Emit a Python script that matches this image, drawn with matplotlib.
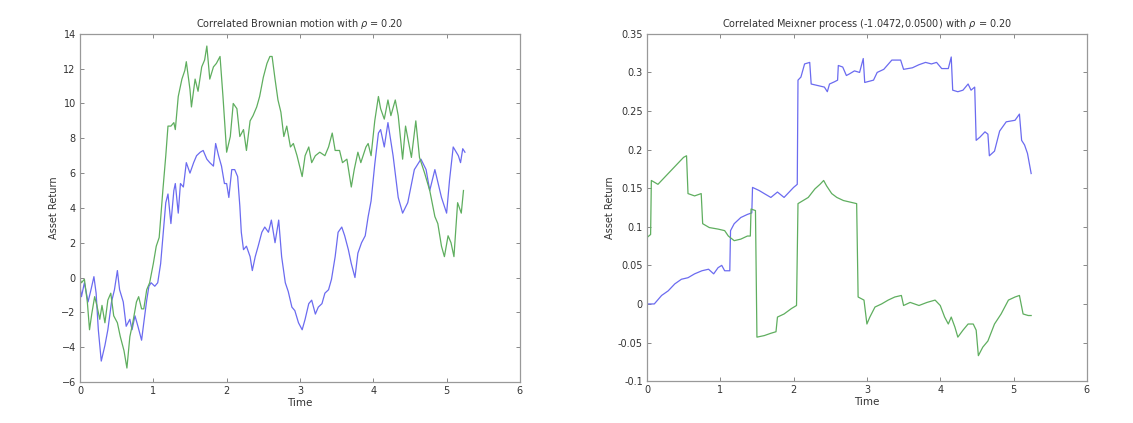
import numpy as np
import matplotlib
matplotlib.use('Agg')
import matplotlib.pyplot as plt

# ---- correlated brownian motion (left) ----
bm_t_blue = [0.00, 0.02, 0.06, 0.11, 0.15, 0.19, 0.22, 0.25, 0.29, 0.34, 0.38, 0.43, 0.47, 0.51,
             0.54, 0.59, 0.63, 0.68, 0.71, 0.75, 0.79, 0.84, 0.87, 0.91, 0.94, 0.97, 1.02, 1.06,
             1.10, 1.13, 1.17, 1.20, 1.24, 1.28, 1.30, 1.34, 1.37, 1.41, 1.45, 1.50, 1.55, 1.59,
             1.64, 1.68, 1.73, 1.77, 1.82, 1.85, 1.89, 1.93, 1.97, 2.00, 2.03, 2.07, 2.11, 2.15,
             2.18, 2.20, 2.23, 2.27, 2.32, 2.35, 2.39, 2.43, 2.48, 2.52, 2.57, 2.61, 2.66, 2.71,
             2.75, 2.80, 2.84, 2.89, 2.93, 2.98, 3.03, 3.07, 3.12, 3.16, 3.21, 3.25, 3.30, 3.34,
             3.39, 3.43, 3.48, 3.52, 3.57, 3.61, 3.66, 3.70, 3.75, 3.79, 3.84, 3.89, 3.93, 3.97,
             4.02, 4.07, 4.10, 4.15, 4.20, 4.27, 4.34, 4.40, 4.47, 4.56, 4.65, 4.72, 4.77, 4.84,
             4.93, 5.00, 5.04, 5.09, 5.16, 5.19, 5.22, 5.25]
bm_blue = [-0.5, -1.1, -0.3, -1.4, -0.7, 0.05, -0.9, -3.0, -4.8, -3.9, -3.0, -1.4, -0.7, 0.4,
           -0.7, -1.4, -2.8, -2.4, -3.0, -2.2, -2.8, -3.6, -2.6, -1.3, -0.5, -0.3, -0.5, -0.3,
           0.8, 2.3, 4.3, 4.8, 3.1, 5.0, 5.4, 3.7, 5.4, 5.2, 6.6, 6.0, 6.6, 7.0,
           7.2, 7.3, 6.8, 6.6, 6.4, 7.7, 7.0, 6.4, 5.4, 5.4, 4.6, 6.2, 6.2, 5.8,
           4.1, 2.6, 1.6, 1.8, 1.2, 0.4, 1.2, 1.8, 2.6, 2.9, 2.6, 3.3, 2.0, 3.3,
           1.2, -0.3, -0.8, -1.7, -1.9, -2.6, -3.0, -2.4, -1.5, -1.3, -2.1, -1.7, -1.5, -0.9,
           -0.7, -0.1, 1.2, 2.6, 2.9, 2.4, 1.6, 0.8, 0.0, 1.4, 2.0, 2.4, 3.5, 4.4,
           6.5, 8.3, 8.5, 7.5, 8.9, 7.0, 4.6, 3.7, 4.3, 6.2, 6.8, 6.2, 5.0, 6.2,
           4.6, 3.7, 5.6, 7.5, 7.0, 6.6, 7.4, 7.2]

bm_t_green = [0.00, 0.02, 0.06, 0.10, 0.13, 0.16, 0.20, 0.23, 0.27, 0.30, 0.34, 0.38, 0.42, 0.46,
              0.51, 0.55, 0.60, 0.64, 0.68, 0.72, 0.77, 0.80, 0.84, 0.87, 0.91, 0.95, 1.00, 1.04,
              1.08, 1.13, 1.17, 1.20, 1.24, 1.28, 1.30, 1.34, 1.39, 1.43, 1.45, 1.50, 1.52, 1.57,
              1.61, 1.66, 1.70, 1.73, 1.77, 1.82, 1.86, 1.91, 1.95, 2.00, 2.05, 2.09, 2.14, 2.18,
              2.23, 2.27, 2.32, 2.36, 2.41, 2.45, 2.50, 2.55, 2.59, 2.62, 2.66, 2.70, 2.74, 2.78,
              2.82, 2.87, 2.91, 2.96, 3.03, 3.07, 3.12, 3.16, 3.21, 3.27, 3.34, 3.39, 3.44, 3.48,
              3.54, 3.58, 3.64, 3.70, 3.74, 3.79, 3.83, 3.90, 3.93, 3.97, 4.02, 4.07, 4.10, 4.15,
              4.20, 4.24, 4.30, 4.34, 4.40, 4.44, 4.52, 4.58, 4.63, 4.70, 4.77, 4.84, 4.88, 4.93,
              4.97, 5.02, 5.06, 5.10, 5.15, 5.20, 5.23]
bm_green = [-0.1, -0.3, -0.1, -1.4, -3.0, -2.1, -1.1, -1.6, -2.4, -1.6, -2.6, -1.3, -0.9, -2.2,
            -2.6, -3.4, -4.2, -5.2, -3.4, -2.6, -1.4, -1.1, -1.8, -1.8, -0.7, -0.3, 0.8, 1.8,
            2.3, 5.0, 7.0, 8.7, 8.7, 8.9, 8.5, 10.4, 11.4, 11.9, 12.4, 10.8, 9.8, 11.4,
            10.7, 12.1, 12.5, 13.3, 11.4, 12.1, 12.3, 12.7, 10.4, 7.2, 8.1, 10.0, 9.7, 8.1,
            8.5, 7.3, 9.0, 9.3, 9.8, 10.4, 11.5, 12.3, 12.7, 12.7, 11.4, 10.2, 9.5, 8.1,
            8.7, 7.5, 7.7, 7.0, 5.8, 7.0, 7.5, 6.6, 7.0, 7.2, 7.0, 7.5, 8.3, 7.3,
            7.3, 6.6, 6.8, 5.2, 6.2, 7.2, 6.6, 7.5, 7.7, 7.0, 9.0, 10.4, 9.7, 9.1,
            10.2, 9.3, 10.2, 9.3, 6.8, 8.7, 6.9, 9.0, 6.9, 6.0, 5.0, 3.5, 3.1, 1.8,
            1.2, 2.4, 2.0, 1.2, 4.3, 3.7, 5.0]

# ---- correlated meixner process (right) ----
mx_t_blue = [0.00, 0.10, 0.20, 0.29, 0.38, 0.47, 0.56, 0.65, 0.75, 0.84, 0.91, 0.97, 1.02, 1.06,
             1.13, 1.14, 1.19, 1.28, 1.37, 1.43, 1.44, 1.53, 1.60, 1.69, 1.78, 1.87, 1.92, 2.00,
             2.05, 2.06, 2.10, 2.15, 2.22, 2.24, 2.33, 2.42, 2.46, 2.49, 2.56, 2.60, 2.61, 2.67,
             2.72, 2.76, 2.83, 2.90, 2.95, 2.97, 3.09, 3.14, 3.23, 3.34, 3.46, 3.50, 3.62, 3.71,
             3.80, 3.88, 3.95, 4.02, 4.11, 4.15, 4.17, 4.24, 4.31, 4.38, 4.42, 4.47, 4.49, 4.54,
             4.61, 4.65, 4.67, 4.74, 4.81, 4.90, 5.02, 5.08, 5.11, 5.15, 5.19, 5.24]
mx_blue = [0.0, 0.0, 0.011, 0.017, 0.026, 0.032, 0.034, 0.039, 0.043, 0.045, 0.039, 0.047, 0.05, 0.043,
           0.043, 0.095, 0.104, 0.112, 0.116, 0.118, 0.151, 0.147, 0.143, 0.138, 0.145, 0.138, 0.143, 0.151,
           0.155, 0.29, 0.294, 0.311, 0.313, 0.285, 0.283, 0.281, 0.275, 0.285, 0.288, 0.29, 0.309, 0.307,
           0.296, 0.298, 0.302, 0.30, 0.318, 0.287, 0.29, 0.30, 0.304, 0.316, 0.316, 0.304, 0.306, 0.31,
           0.313, 0.311, 0.313, 0.305, 0.305, 0.32, 0.277, 0.275, 0.277, 0.285, 0.277, 0.281, 0.212, 0.216,
           0.223, 0.22, 0.192, 0.198, 0.224, 0.236, 0.238, 0.246, 0.212, 0.206, 0.195, 0.169]

mx_t_green = [0.00, 0.05, 0.06, 0.15, 0.24, 0.33, 0.42, 0.50, 0.54, 0.56, 0.65, 0.74, 0.76, 0.85,
              0.97, 1.06, 1.11, 1.19, 1.28, 1.37, 1.41, 1.42, 1.48, 1.50, 1.60, 1.69, 1.76, 1.78, 1.87,
              1.97, 2.04, 2.06, 2.13, 2.20, 2.29, 2.36, 2.41, 2.45, 2.52, 2.59, 2.68, 2.77, 2.86,
              2.88, 2.96, 3.00, 3.04, 3.11, 3.20, 3.29, 3.38, 3.47, 3.50, 3.59, 3.71, 3.82, 3.93,
              4.00, 4.06, 4.11, 4.15, 4.20, 4.24, 4.31, 4.38, 4.45, 4.49, 4.52, 4.58, 4.65, 4.74,
              4.83, 4.93, 5.02, 5.08, 5.13, 5.20, 5.24]
mx_green = [0.086, 0.09, 0.16, 0.155, 0.164, 0.173, 0.182, 0.19, 0.192, 0.143, 0.14, 0.143, 0.104, 0.099,
            0.097, 0.095, 0.088, 0.082, 0.084, 0.088, 0.088, 0.123, 0.121, -0.043, -0.041, -0.038, -0.036, -0.017, -0.013,
            -0.006, -0.002, 0.13, 0.134, 0.138, 0.149, 0.155, 0.16, 0.153, 0.143, 0.138, 0.134, 0.132, 0.13,
            0.009, 0.005, -0.026, -0.017, -0.004, 0.0, 0.005, 0.009, 0.011, -0.002, 0.002, -0.002, 0.002, 0.005,
            -0.002, -0.017, -0.026, -0.017, -0.03, -0.043, -0.034, -0.026, -0.026, -0.034, -0.067, -0.056, -0.048, -0.026,
            -0.013, 0.005, 0.009, 0.011, -0.013, -0.015, -0.015]

blue_c = '#6b6bf0'
green_c = '#5fae5f'
txt_c = '#333333'

fig = plt.figure(figsize=(11.33, 4.23), dpi=100)
ax1 = fig.add_axes([0.0706, 0.097, 0.3883, 0.823])
ax2 = fig.add_axes([0.571, 0.099, 0.3883, 0.821])

def style(ax):
    for s in ax.spines.values():
        s.set_color('#999999')
        s.set_linewidth(0.9)
    ax.tick_params(direction='in', top=True, right=True, length=3, width=0.7,
                   color='#888888', labelsize=7, labelcolor=txt_c, pad=3)
    ax.set_xlabel('Time', fontsize=7.5, color=txt_c, labelpad=1)
    ax.set_ylabel('Asset Return', fontsize=7, color=txt_c, labelpad=2)

ax1.plot(bm_t_blue, bm_blue, color=blue_c, lw=0.9)
ax1.plot(bm_t_green, bm_green, color=green_c, lw=0.9)
ax1.set_xlim(0, 6)
ax1.set_ylim(-6, 14)
ax1.set_xticks(range(0, 7))
ax1.set_yticks(range(-6, 15, 2))
ax1.set_title(r'Correlated Brownian motion with $\rho$ = 0.20', fontsize=7, color=txt_c, pad=5)
style(ax1)

ax2.plot(mx_t_blue, mx_blue, color=blue_c, lw=0.9)
ax2.plot(mx_t_green, mx_green, color=green_c, lw=0.9)
ax2.set_xlim(0, 6)
ax2.set_ylim(-0.1, 0.35)
ax2.set_xticks(range(0, 7))
yt = [-0.1, -0.05, 0, 0.05, 0.1, 0.15, 0.2, 0.25, 0.3, 0.35]
ax2.set_yticks(yt)
ax2.set_yticklabels(['%g' % v for v in yt])
ax2.set_title(r'Correlated Meixner process (-1.0472,0.0500) with $\rho$ = 0.20', fontsize=7, color=txt_c, pad=5)
style(ax2)

fig.savefig('out.png', dpi=100, facecolor='white')
